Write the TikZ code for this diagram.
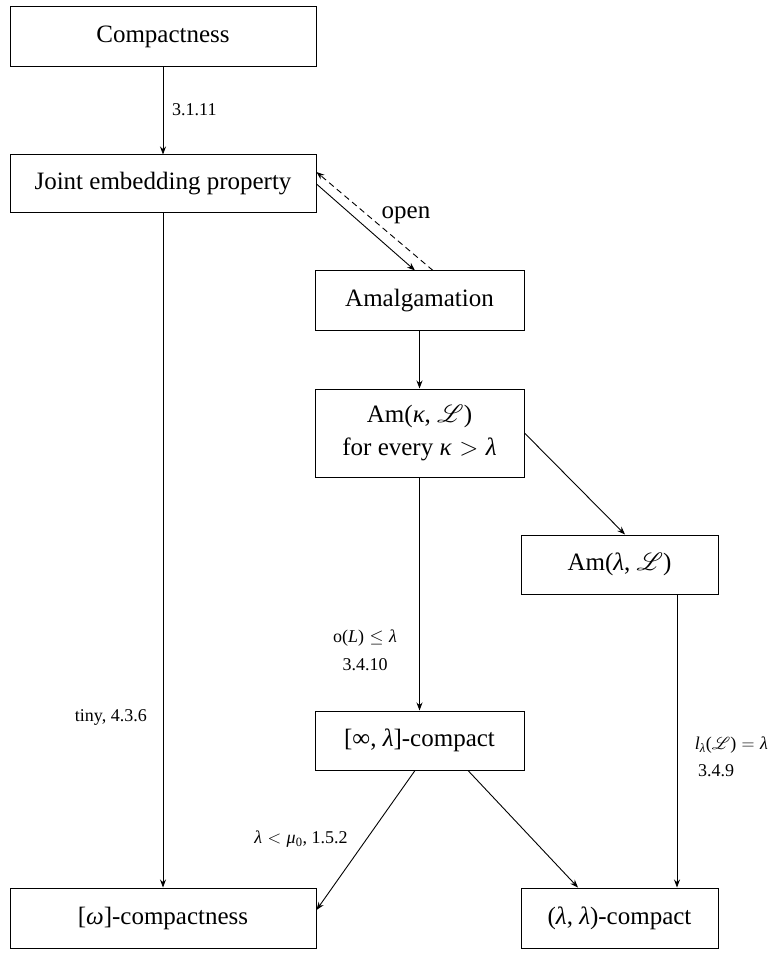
\RequirePackage{fix-cm}
\documentclass[tikz,border=0pt]{standalone}
\usepackage{amsmath,amssymb,mathrsfs}
\usepackage{fontspec}
\setmainfont{Liberation Serif}
\usetikzlibrary{arrows.meta}
\newcommand{\SL}{$\mathscr{L}$}
\newcommand{\ti}[1]{\textit{#1}}
\newcommand{\rel}[1]{\hspace{0.3em}$#1$\hspace{0.3em}}
\begin{document}
\begin{tikzpicture}[x=1pt,y=-1pt,
  box/.style={draw, line width=1pt, inner sep=0pt, align=center, font=\fontsize{25}{33}\selectfont},
  lab/.style={font=\fontsize{18}{22}\selectfont, inner sep=0pt},
  arr/.style={-{Stealth[length=8pt,width=6pt]}, line width=0.9pt}]
\useasboundingbox (0,0) rectangle (768,957);

\node[box, minimum width=306pt, minimum height=60pt] (comp) at (163,37) {Compactness};
\node[box, minimum width=306pt, minimum height=58pt] (jep) at (163,184) {Joint embedding property};
\node[box, minimum width=209pt, minimum height=59pt] (amal) at (419.5,300.5) {Amalgamation};
\node[box, minimum width=209pt, minimum height=88pt] (amk) at (419.5,433) {Am(\ti{κ}, \SL)\\for every \ti{κ}\rel{>}\ti{λ}};
\node[box, minimum width=197pt, minimum height=59pt] (aml) at (619.5,564.5) {Am(\ti{λ}, \SL)};
\node[box, minimum width=209pt, minimum height=59pt] (infl) at (419.5,740.5) {[∞, \ti{λ}]-compact};
\node[box, minimum width=306pt, minimum height=60pt] (omega) at (163,918) {[\ti{ω}]-compactness};
\node[box, minimum width=197pt, minimum height=60pt] (ll) at (619.5,918) {(\ti{λ}, \ti{λ})-compact};

\draw[arr] (comp) -- (jep);
\node[lab, anchor=west] (l1) at (172,110) {3.1.11};

\draw[arr] (jep.east) -- ([xshift=-4.5pt]amal.north);
\draw[arr, dash pattern=on 6pt off 4pt] ([xshift=13.5pt]amal.north) -- ([yshift=12pt]jep.east);
\node[font=\fontsize{25}{30}\selectfont, inner sep=0pt] (open) at (406,215) {open};

\draw[arr] (amal) -- (amk);
\draw[arr] (amk.east) -- ([xshift=5.5pt]aml.north);

\draw[arr] (amk) -- (infl);
\node[lab] (l2) at (365,638) {o(\ti{L})\rel{\leq}\ti{λ}};
\node[lab] (l3) at (365,665) {3.4.10};

\draw[arr] ([xshift=57.5pt]aml.south) -- ([xshift=57.5pt]ll.north);
\node[lab, anchor=east] (l4) at (768,745) {\ti{l}\textsubscript{\ti{λ}}(\SL)\rel{=}\ti{λ}};
\node[lab] (l5) at (716,771) {3.4.9};

\draw[arr] (jep) -- (omega);
\node[lab, anchor=east] (l6) at (147,717) {tiny, 4.3.6};

\draw[arr] ([xshift=-4.5pt]infl.south) -- ([yshift=8pt]omega.east);
\node[lab] (l7) at (301,839) {\ti{λ}\rel{<}\ti{μ}\textsubscript{0}, 1.5.2};
\draw[arr] ([xshift=48.5pt]infl.south) -- ([xshift=-41.5pt]ll.north);
\end{tikzpicture}
\end{document}
